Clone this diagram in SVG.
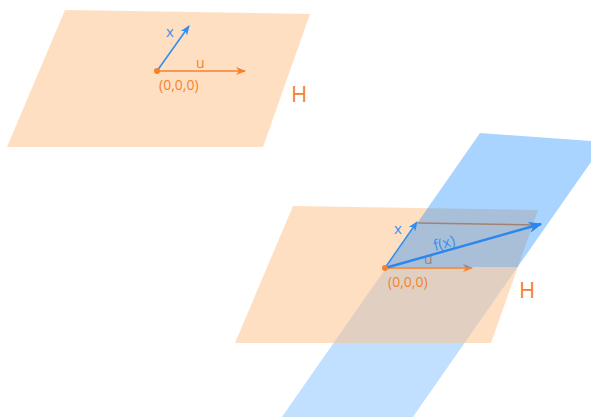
<svg xmlns="http://www.w3.org/2000/svg" width="591" height="417" viewBox="0 0 591 417">
<defs>
<marker id="ao" viewBox="0 0 10 8" refX="9" refY="4" markerWidth="10" markerHeight="8" markerUnits="userSpaceOnUse" orient="auto"><path d="M0,0 L10,4 L0,8 L3,4 z" fill="#f5822a"/></marker>
<marker id="ab" viewBox="0 0 10 8" refX="9" refY="4" markerWidth="10" markerHeight="8" markerUnits="userSpaceOnUse" orient="auto"><path d="M0,0 L10,4 L0,8 L3,4 z" fill="#2f8ff0"/></marker>
<marker id="ab2" viewBox="0 0 10 8" refX="9" refY="4" markerWidth="14" markerHeight="11" markerUnits="userSpaceOnUse" orient="auto"><path d="M0,0 L10,4 L0,8 L3,4 z" fill="#2b86ee"/></marker>
</defs>
<style>
.plane{fill:rgb(255,193,139);fill-opacity:0.52}
.vo{stroke:#f5822a;stroke-width:1.6;fill:none}
.vb{stroke:#2f8ff0;stroke-width:1.6;fill:none}
.to{fill:#f5822a;font-family:"Open Sans",sans-serif;font-size:14px}
.tb{fill:#3a8ff0;font-family:"Open Sans",sans-serif;font-size:15px}
.th{fill:#f5822a;font-family:"Open Sans",sans-serif;font-size:22px}
</style>
<g id="planeH1">
<polygon class="plane" points="65,10 310,14 263,147 7,147"/>
<text class="th" x="291" y="102">H</text>
</g>
<g id="vectors1">
<line class="vo" x1="157" y1="71" x2="245" y2="71" marker-end="url(#ao)"/>
<line class="vb" x1="157" y1="71" x2="189" y2="26" marker-end="url(#ab)"/>
<circle cx="157" cy="71" r="3" fill="#f5822a"/>
<text class="to" x="196" y="68" font-size="16">u</text>
<text class="tb" x="166" y="37">x</text>
<text class="to" x="159" y="90">(0,0,0)</text>
</g>
<g id="planeF-lower">
<polygon points="270,434 386.6,267 517.6,267 401,434" fill="rgb(6,132,255)" fill-opacity="0.25"/>
</g>
<g id="planeH2">
<polygon class="plane" points="293,206 538,210 491,343 235,343"/>
<text class="th" x="519" y="298">H</text>
</g>
<g id="connectors">
<line class="vo" x1="385" y1="268" x2="472" y2="268" marker-end="url(#ao)"/>
<line x1="418" y1="223" x2="538" y2="225" stroke="#f5822a" stroke-width="1.6"/>
<text class="to" x="424" y="264" font-size="16">u</text>
</g>
<g id="planeF-upper">
<polygon points="386.6,267 480,133 605,142 517.6,267" fill="rgb(6,132,255)" fill-opacity="0.35"/>
</g>
<g id="vectors2">
<line class="vb" x1="385" y1="268" x2="417" y2="222" marker-end="url(#ab)"/>
<line x1="385" y1="268" x2="541" y2="224" stroke="#2b86ee" stroke-width="2.4" marker-end="url(#ab2)"/>
<circle cx="385" cy="268" r="3" fill="#f5822a"/>
<text class="tb" x="394" y="234">x</text>
<text class="tb" x="435" y="251" transform="rotate(-15.7 435 251)">f(x)</text>
<text class="to" x="388" y="287">(0,0,0)</text>
</g>
</svg>
